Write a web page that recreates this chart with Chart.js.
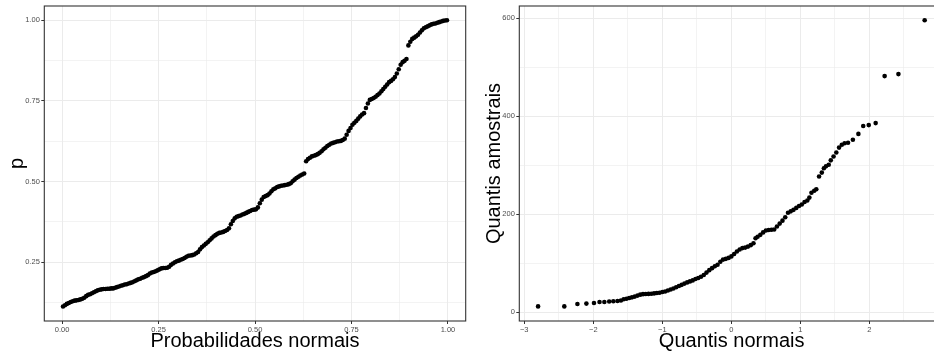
<!DOCTYPE html>
<html>
<head>
<meta charset="utf-8">
<script src="https://cdn.jsdelivr.net/npm/chart.js@4.4.1/dist/chart.umd.min.js"></script>
<style>
  html, body { margin: 0; padding: 0; background: #fff; overflow: hidden; width: 934px; height: 354px; }
  #wrap { position: relative; width: 934px; height: 354px; overflow: hidden; }
  #pp { position: absolute; left: 0; top: 0; }
  #qq { position: absolute; left: 470px; top: 0; }
</style>
</head>
<body>
<div id="wrap">
  <canvas id="pp" width="470" height="354"></canvas>
  <canvas id="qq" width="480" height="354"></canvas>
</div>
<script>
/* ---- P-P plot (left) ---- */
const ppX = [
  0.0025, 0.0075, 0.0125, 0.0175, 0.0225, 0.0275, 0.0325, 0.0375, 0.0425, 0.0475,
  0.0525, 0.0575, 0.0625, 0.0675, 0.0725, 0.0775, 0.0825, 0.0875, 0.0925, 0.0975,
  0.1025, 0.1075, 0.1125, 0.1175, 0.1225, 0.1275, 0.1325, 0.1375, 0.1425, 0.1475,
  0.1525, 0.1575, 0.1625, 0.1675, 0.1725, 0.1775, 0.1825, 0.1875, 0.1925, 0.1975,
  0.2025, 0.2075, 0.2125, 0.2175, 0.2225, 0.2275, 0.2325, 0.2375, 0.2425, 0.2475,
  0.2525, 0.2575, 0.2625, 0.2675, 0.2725, 0.2775, 0.2825, 0.2875, 0.2925, 0.2975,
  0.3025, 0.3075, 0.3125, 0.3175, 0.3225, 0.3275, 0.3325, 0.3375, 0.3425, 0.3475,
  0.3525, 0.3575, 0.3625, 0.3675, 0.3725, 0.3775, 0.3825, 0.3875, 0.3925, 0.3975,
  0.4025, 0.4075, 0.4125, 0.4175, 0.4225, 0.4275, 0.4325, 0.4375, 0.4425, 0.4475,
  0.4525, 0.4575, 0.4625, 0.4675, 0.4725, 0.4775, 0.4825, 0.4875, 0.4925, 0.4975,
  0.5025, 0.5075, 0.5125, 0.5175, 0.5225, 0.5275, 0.5325, 0.5375, 0.5425, 0.5475,
  0.5525, 0.5575, 0.5625, 0.5675, 0.5725, 0.5775, 0.5825, 0.5875, 0.5925, 0.5975,
  0.6025, 0.6075, 0.6125, 0.6175, 0.6225, 0.6275, 0.6325, 0.6375, 0.6425, 0.6475,
  0.6525, 0.6575, 0.6625, 0.6675, 0.6725, 0.6775, 0.6825, 0.6875, 0.6925, 0.6975,
  0.7025, 0.7075, 0.7125, 0.7175, 0.7225, 0.7275, 0.7325, 0.7375, 0.7425, 0.7475,
  0.7525, 0.7575, 0.7625, 0.7675, 0.7725, 0.7775, 0.7825, 0.7875, 0.7925, 0.7975,
  0.8025, 0.8075, 0.8125, 0.8175, 0.8225, 0.8275, 0.8325, 0.8375, 0.8425, 0.8475,
  0.8525, 0.8575, 0.8625, 0.8675, 0.8725, 0.8775, 0.8825, 0.8875, 0.8925, 0.8975,
  0.9025, 0.9075, 0.9125, 0.9175, 0.9225, 0.9275, 0.9325, 0.9375, 0.9425, 0.9475,
  0.9525, 0.9575, 0.9625, 0.9675, 0.9725, 0.9775, 0.9825, 0.9875, 0.9925, 0.9975];
const ppY = [
  0.113, 0.117, 0.121, 0.124, 0.127, 0.129, 0.131, 0.132, 0.133, 0.135,
  0.137, 0.140, 0.145, 0.149, 0.151, 0.154, 0.157, 0.160, 0.163, 0.165,
  0.166, 0.167, 0.167, 0.168, 0.168, 0.169, 0.169, 0.171, 0.173, 0.175,
  0.177, 0.179, 0.181, 0.182, 0.184, 0.186, 0.188, 0.191, 0.194, 0.197,
  0.199, 0.202, 0.204, 0.207, 0.210, 0.215, 0.218, 0.220, 0.222, 0.225,
  0.228, 0.231, 0.232, 0.232, 0.233, 0.236, 0.242, 0.246, 0.250, 0.253,
  0.255, 0.258, 0.260, 0.263, 0.267, 0.270, 0.271, 0.272, 0.274, 0.278,
  0.282, 0.290, 0.297, 0.302, 0.307, 0.312, 0.318, 0.324, 0.330, 0.334,
  0.338, 0.341, 0.342, 0.344, 0.347, 0.350, 0.355, 0.368, 0.378, 0.386,
  0.391, 0.393, 0.395, 0.398, 0.400, 0.403, 0.406, 0.409, 0.412, 0.413,
  0.414, 0.420, 0.433, 0.444, 0.452, 0.455, 0.458, 0.463, 0.470, 0.476,
  0.479, 0.483, 0.485, 0.487, 0.488, 0.489, 0.490, 0.492, 0.495, 0.501,
  0.506, 0.511, 0.515, 0.519, 0.522, 0.525, 0.563, 0.570, 0.574, 0.578,
  0.580, 0.582, 0.585, 0.589, 0.594, 0.600, 0.605, 0.610, 0.614, 0.618,
  0.620, 0.622, 0.624, 0.625, 0.626, 0.629, 0.633, 0.645, 0.657, 0.666,
  0.676, 0.682, 0.688, 0.695, 0.702, 0.708, 0.712, 0.728, 0.742, 0.753,
  0.756, 0.759, 0.763, 0.768, 0.773, 0.780, 0.787, 0.794, 0.801, 0.808,
  0.812, 0.817, 0.824, 0.835, 0.848, 0.862, 0.870, 0.874, 0.880, 0.922,
  0.933, 0.942, 0.946, 0.950, 0.955, 0.962, 0.969, 0.975, 0.978, 0.981,
  0.984, 0.987, 0.989, 0.990, 0.992, 0.994, 0.996, 0.998, 0.999, 1.000];
const ppXMajor = [0, 0.25, 0.5, 0.75, 1];
const ppXMinor = [0.125, 0.375, 0.625, 0.875];
const ppYMajor = [0.25, 0.5, 0.75, 1];
const ppYMinor = [0.125, 0.375, 0.625, 0.875];

/* ---- Q-Q plot (right) ---- */
const qqX = [-2.80, -2.42, -2.23, -2.10, -1.99, -1.91, -1.84, -1.77, -1.71, -1.65,
             -1.60, -1.56, -1.52, -1.48, -1.44, -1.40, -1.36, -1.32, -1.28, -1.24,
             -1.20, -1.16, -1.12, -1.08, -1.04, -1.00, -0.96, -0.92, -0.88, -0.84,
             -0.80, -0.76, -0.72, -0.68, -0.64, -0.60, -0.56, -0.52, -0.48, -0.44,
             -0.40, -0.36, -0.32, -0.28, -0.24, -0.20, -0.16, -0.12, -0.08, -0.04,
              0.00,  0.04,  0.08,  0.12,  0.16,  0.20,  0.24,  0.28,  0.32,  0.35,
              0.38,  0.42,  0.46,  0.50,  0.54,  0.58,  0.62,  0.66,  0.70,  0.74,
              0.78,  0.82,  0.86,  0.90,  0.94,  0.98,  1.02,  1.06,  1.10,  1.13,
              1.16,  1.20,  1.23,  1.27,  1.31,  1.34,  1.37,  1.41,  1.44,  1.48,
              1.52,  1.56,  1.60,  1.64,  1.69,  1.76,  1.84,  1.91,  1.99,  2.09,
              2.22,  2.42,  2.80];
const qqY = [12, 12, 17, 17.7, 19, 21, 21, 22, 22.4, 23,
             24, 26.5, 27.5, 29, 30.5, 32, 34, 36, 37, 37.2,
             37.5, 37.8, 38.5, 39.2, 40, 41.5, 42.5, 44.5, 46.5, 48.5,
             51, 53.5, 56, 58.5, 61, 63, 65, 68, 70, 72.5,
             76, 81, 86, 90, 94, 97, 103, 107.5, 109, 111,
             114, 119, 124, 128, 131, 132, 134, 137, 141, 151,
             154, 158, 163, 167, 168, 168.5, 169, 175, 181, 187,
             194, 203, 206, 209, 213, 217, 220, 225, 228, 234,
             244, 248, 251, 277, 285, 294, 298, 301, 310, 318,
             326, 336, 342, 345, 346, 352, 364, 380, 382, 386,
             482, 486, 596];
const qqXMajor = [-3, -2, -1, 0, 1, 2, 3];
const qqXMinor = [-2.5, -1.5, -0.5, 0.5, 1.5, 2.5];
const qqYMajor = [0, 200, 400, 600];
const qqYMinor = [100, 300, 500];

const FONT = "'Liberation Sans', Arial, Helvetica, sans-serif";

// ggplot-style panel border drawn over everything
const panelBorder = {
  id: 'panelBorder',
  afterDraw(chart) {
    const { ctx, chartArea: a } = chart;
    ctx.save();
    ctx.strokeStyle = '#333333';
    ctx.lineWidth = 1.1;
    ctx.strokeRect(a.left, a.top, a.right - a.left, a.bottom - a.top);
    ctx.restore();
  }
};

function axis(min, max, major, minor, fmt, size, title, titlePad) {
  return {
    type: 'linear',
    min, max,
    afterBuildTicks: (s) => {
      s.ticks = major.concat(minor).sort((a, b) => a - b)
        .map(v => ({ value: v, minor: minor.includes(v) }));
    },
    afterFit: (s) => {
      if (s.isHorizontal()) s.height = size; else s.width = size;
    },
    grid: {
      color: '#ebebeb',
      lineWidth: (c) => (c.tick && c.tick.minor ? 0.6 : 1),
      drawTicks: true,
      tickLength: 3,
      tickWidth: 1,
      tickColor: (c) => (c.tick && c.tick.minor ? 'rgba(0,0,0,0)' : '#333333'),
    },
    border: { display: false },
    ticks: {
      autoSkip: false,
      maxRotation: 0,
      padding: 1.5,
      color: '#4d4d4d',
      font: { family: FONT, size: 7.5 },
      callback: (v, i, ticks) => (ticks[i].minor ? '' : fmt(v)),
    },
    title: {
      display: true,
      text: title,
      color: '#000000',
      font: { family: FONT, size: 20, lineHeight: 1.2 },
      padding: titlePad,
    },
  };
}

function makeChart(id, xs, ys, scales, padding) {
  const pts = xs.map((x, i) => ({ x, y: ys[i] }));
  return new Chart(document.getElementById(id), {
    type: 'scatter',
    data: {
      datasets: [{
        data: pts,
        pointRadius: 2.3,
        pointBackgroundColor: '#000000',
        pointBorderWidth: 0,
        pointHoverRadius: 2.3,
      }],
    },
    options: {
      responsive: false,
      animation: false,
      devicePixelRatio: 1,
      events: [],
      layout: { padding },
      plugins: { legend: { display: false }, tooltip: { enabled: false } },
      scales,
    },
    plugins: [panelBorder],
  });
}

const fmt2 = (v) => v.toFixed(2);
const fmtInt = (v) => (v < 0 ? '\u2212' + Math.abs(v) : String(v));

makeChart('pp', ppX, ppY, {
  x: axis(-0.046, 1.046, ppXMajor, ppXMinor, fmt2, 33, 'Probabilidades normais', { top: 0, bottom: 1 }),
  y: axis(0.068, 1.044, ppYMajor, ppYMinor, fmt2, 44.3, 'p', { top: 5, bottom: 0 }),
}, { top: 6, right: 4.3, left: 0, bottom: 0 });

makeChart('qq', qqX, qqY, {
  x: axis(-3.072, 3.08, qqXMajor, qqXMinor, fmtInt, 33, 'Quantis normais', { top: 0, bottom: 1 }),
  y: axis(-17.8, 625, qqYMajor, qqYMinor, fmtInt, 49.3, 'Quantis amostrais', { top: 12, bottom: 0 }),
}, { top: 6, right: 6, left: 0, bottom: 0 });
</script>
</body>
</html>
